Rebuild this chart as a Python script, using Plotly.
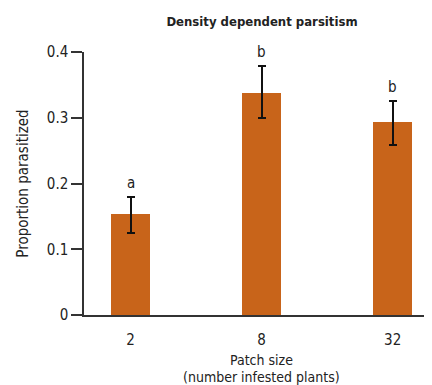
import plotly.graph_objects as go

categories = ["2", "8", "32"]
values = [0.153, 0.337, 0.294]
err_upper = [0.179, 0.378, 0.326]
err_lower = [0.124, 0.300, 0.258]
letters = ["a", "b", "b"]
x_title_lines = ["Patch size", "(number infested plants)"]

FONT = "DejaVu Sans Condensed, Liberation Sans Narrow, sans-serif"
BAR = "#C8641A"
AX = "#333333"
TXT = "#222222"

err_plus = [u - v for u, v in zip(err_upper, values)]
err_minus = [v - l for v, l in zip(values, err_lower)]
xs = list(range(len(categories)))

W, H = 424, 377  # page body has an 8px margin

fig = go.Figure()
fig.add_trace(go.Bar(
    x=xs, y=values, width=0.3,
    marker=dict(color=BAR, line=dict(width=0)),
    error_y=dict(type="data", symmetric=False, array=err_plus, arrayminus=err_minus,
                 color="#111111", thickness=2, width=4),
    showlegend=False,
))

for x, u, t in zip(xs, err_upper, letters):
    fig.add_annotation(x=x, y=u, text=t, showarrow=False, yanchor="bottom", yshift=3,
                       font=dict(family=FONT, size=15, color=TXT))

for i, line in enumerate(x_title_lines):
    fig.add_annotation(xref="paper", yref="paper", x=(261 - 84) / 348, y=0,
                       yanchor="middle", yshift=-(45 + 17 * i), showarrow=False,
                       text=line, font=dict(family=FONT, size=14, color=TXT))

fig.update_layout(
    width=W, height=H,
    margin=dict(l=76, r=0, t=44, b=70, autoexpand=False),
    plot_bgcolor="white", paper_bgcolor="white",
    font=dict(family=FONT, size=15, color=TXT),
    title=dict(text="<b>Density dependent parsitism</b>", x=254 / W, xanchor="center",
               y=1 - 13 / H, yanchor="middle", font=dict(family=FONT, size=13, color=TXT)),
    bargap=0,
)
fig.update_xaxes(
    range=[-0.355, 2.30], tickmode="array", tickvals=xs, ticktext=categories,
    showline=True, linecolor=AX, linewidth=1.5, ticks="", showgrid=False, zeroline=False,
    ticklabelstandoff=10, automargin=False,
)
fig.update_yaxes(
    range=[0, 0.4], tickvals=[0, 0.1, 0.2, 0.3, 0.4], ticktext=["0", "0.1", "0.2", "0.3", "0.4"],
    showline=True, linecolor=AX, linewidth=1.5, ticks="outside", ticklen=11, tickwidth=1.5,
    tickcolor=AX, showgrid=False, zeroline=False, automargin=False,
    title=dict(text="Proportion parasitized", standoff=15, font=dict(family=FONT, size=15)),
)

fig.write_html("out.html")
